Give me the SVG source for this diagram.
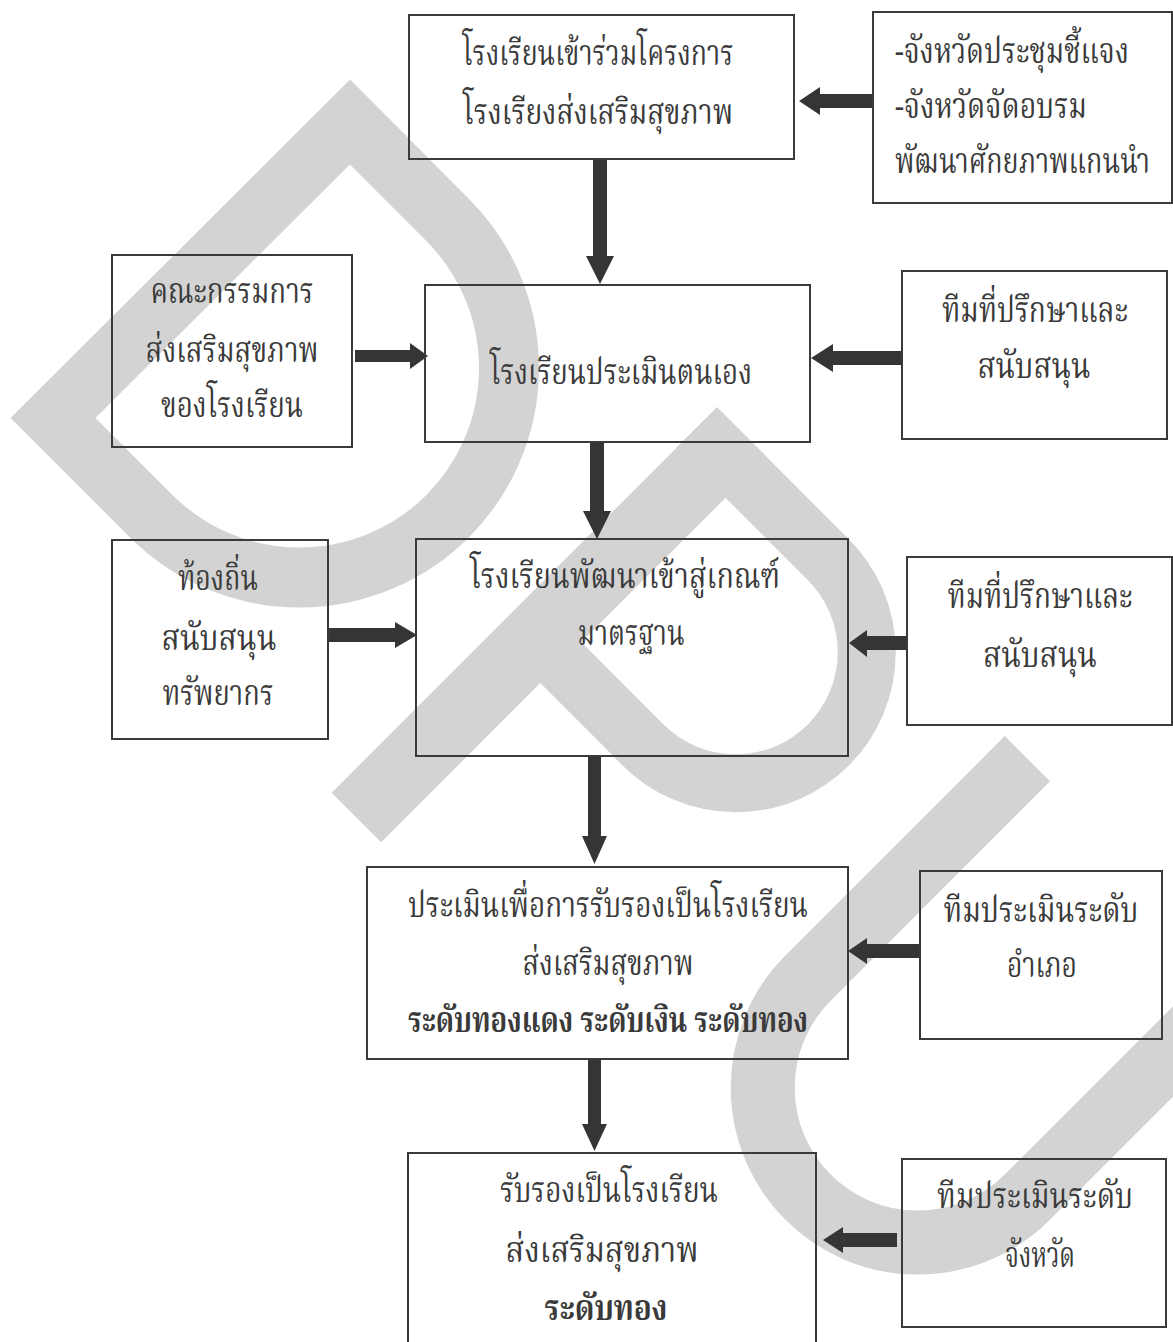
<svg xmlns="http://www.w3.org/2000/svg" width="1173" height="1342" viewBox="0 0 1173 1342">
<style>
.box{fill:none;stroke:#3a3a3a;stroke-width:2}
.t{font-family:"Noto Serif Thai","Noto Sans Thai","Noto Sans",sans-serif;font-size:35px;fill:#3a3a3a;text-anchor:middle}
.l{text-anchor:start}
.b{font-weight:bold}
.wm{fill:none;stroke:#d3d3d3;stroke-linejoin:miter;stroke-miterlimit:10}
.ar{fill:#353538}
</style>
<rect width="1173" height="1342" fill="#ffffff"/>
<g id="watermark">
<path class="wm" stroke-width="60" d="M53,418 L350,122 L447.6,219.9 A209.5,209.5 0 0 1 151.3,516.2 Z"/>
<path class="wm" stroke-width="70" d="M356.4,817.4 L741.8,432"/>
<path class="wm" stroke-width="58" d="M696.5,427.8 L828.4,559.7 A130,130 0 0 1 643.1,744.9 L536,637.8"/>
<path class="wm" stroke-width="64" d="M1027.4,758.7 L807.5,978.6 A155,155 0 0 0 1026.7,1197.8 L1324.4,900.2"/>
</g>
<g id="connectors">
<polygon class="ar" points="873,94 820,94 820,87 799,101 820,115 820,108 873,108"/>
<polygon class="ar" points="593,159 607,159 607,256 614,256 600,284 586,256 593,256"/>
<polygon class="ar" points="355,350 410,350 410,343 428,356 410,369 410,362 355,362"/>
<polygon class="ar" points="902,351 833,351 833,344 811,358 833,372 833,365 902,365"/>
<polygon class="ar" points="590,442 604,442 604,511 611,511 597,539 583,511 590,511"/>
<polygon class="ar" points="328,628 395,628 395,622 417,635 395,648 395,642 328,642"/>
<polygon class="ar" points="907,636 867,636 867,630 849,643 867,657 867,650 907,650"/>
<polygon class="ar" points="588,756 601,756 601,836 607,836 594.5,864 582,836 588,836"/>
<polygon class="ar" points="920,944 867,944 867,938 848,951 867,964 867,958 920,958"/>
<polygon class="ar" points="588,1059 601,1059 601,1124 607,1124 594.5,1151 582,1124 588,1124"/>
<polygon class="ar" points="897,1233 843,1233 843,1227 823,1240 843,1253 843,1247 897,1247"/>
</g>
<g id="n1">
<rect class="box" x="409" y="15" width="385" height="144"/>
<text class="t" x="598" y="65" textLength="271" lengthAdjust="spacingAndGlyphs">โรงเรียนเข้าร่วมโครงการ</text>
<text class="t" x="598" y="124" textLength="270" lengthAdjust="spacingAndGlyphs">โรงเรียงส่งเสริมสุขภาพ</text>
</g>
<g id="n2">
<rect class="box" x="873" y="12" width="299" height="191"/>
<text class="t l" x="895" y="63" textLength="234" lengthAdjust="spacingAndGlyphs">-จังหวัดประชุมชี้แจง</text>
<text class="t l" x="895" y="118" textLength="192" lengthAdjust="spacingAndGlyphs">-จังหวัดจัดอบรม</text>
<text class="t l" x="895" y="173" textLength="255" lengthAdjust="spacingAndGlyphs">พัฒนาศักยภาพแกนนำ</text>
</g>
<g id="n3">
<rect class="box" x="112" y="255" width="240" height="192"/>
<text class="t" x="232" y="303" textLength="163" lengthAdjust="spacingAndGlyphs">คณะกรรมการ</text>
<text class="t" x="232" y="362" textLength="173" lengthAdjust="spacingAndGlyphs">ส่งเสริมสุขภาพ</text>
<text class="t" x="232" y="417" textLength="142" lengthAdjust="spacingAndGlyphs">ของโรงเรียน</text>
</g>
<g id="n4">
<rect class="box" x="425" y="285" width="385" height="157"/>
<text class="t" x="621" y="384" textLength="262" lengthAdjust="spacingAndGlyphs">โรงเรียนประเมินตนเอง</text>
</g>
<g id="n5">
<rect class="box" x="902" y="271" width="265" height="168"/>
<text class="t" x="1035" y="322" textLength="186" lengthAdjust="spacingAndGlyphs">ทีมที่ปรึกษาและ</text>
<text class="t" x="1034" y="378" textLength="113" lengthAdjust="spacingAndGlyphs">สนับสนุน</text>
</g>
<g id="n6">
<rect class="box" x="416" y="539" width="432" height="217"/>
<text class="t" x="625" y="588" textLength="310" lengthAdjust="spacingAndGlyphs">โรงเรียนพัฒนาเข้าสู่เกณฑ์</text>
<text class="t" x="631" y="645" textLength="107" lengthAdjust="spacingAndGlyphs">มาตรฐาน</text>
</g>
<g id="n7">
<rect class="box" x="112" y="540" width="216" height="199"/>
<text class="t" x="218" y="590" textLength="80" lengthAdjust="spacingAndGlyphs">ท้องถิ่น</text>
<text class="t" x="219" y="650" textLength="115" lengthAdjust="spacingAndGlyphs">สนับสนุน</text>
<text class="t" x="218" y="705" textLength="111" lengthAdjust="spacingAndGlyphs">ทรัพยากร</text>
</g>
<g id="n8">
<rect class="box" x="907" y="557" width="265" height="168"/>
<text class="t" x="1040" y="608" textLength="185" lengthAdjust="spacingAndGlyphs">ทีมที่ปรึกษาและ</text>
<text class="t" x="1040" y="667" textLength="114" lengthAdjust="spacingAndGlyphs">สนับสนุน</text>
</g>
<g id="n9">
<rect class="box" x="367" y="867" width="481" height="192"/>
<text class="t" x="608" y="917" textLength="400" lengthAdjust="spacingAndGlyphs">ประเมินเพื่อการรับรองเป็นโรงเรียน</text>
<text class="t" x="608" y="975" textLength="171" lengthAdjust="spacingAndGlyphs">ส่งเสริมสุขภาพ</text>
<text class="t b" x="608" y="1032" textLength="400" lengthAdjust="spacingAndGlyphs">ระดับทองแดง ระดับเงิน ระดับทอง</text>
</g>
<g id="n10">
<rect class="box" x="920" y="871" width="242" height="168"/>
<text class="t" x="1041" y="922" textLength="195" lengthAdjust="spacingAndGlyphs">ทีมประเมินระดับ</text>
<text class="t" x="1042" y="977" textLength="70" lengthAdjust="spacingAndGlyphs">อำเภอ</text>
</g>
<g id="n11">
<rect class="box" x="408" y="1153" width="408" height="200"/>
<text class="t" x="609" y="1202" textLength="218" lengthAdjust="spacingAndGlyphs">รับรองเป็นโรงเรียน</text>
<text class="t" x="602" y="1262" textLength="193" lengthAdjust="spacingAndGlyphs">ส่งเสริมสุขภาพ</text>
<text class="t b" x="606" y="1320" textLength="123" lengthAdjust="spacingAndGlyphs">ระดับทอง</text>
</g>
<g id="n12">
<rect class="box" x="902" y="1159" width="264" height="168"/>
<text class="t" x="1035" y="1208" textLength="196" lengthAdjust="spacingAndGlyphs">ทีมประเมินระดับ</text>
<text class="t" x="1040" y="1267" textLength="70" lengthAdjust="spacingAndGlyphs">จังหวัด</text>
</g>
</svg>
